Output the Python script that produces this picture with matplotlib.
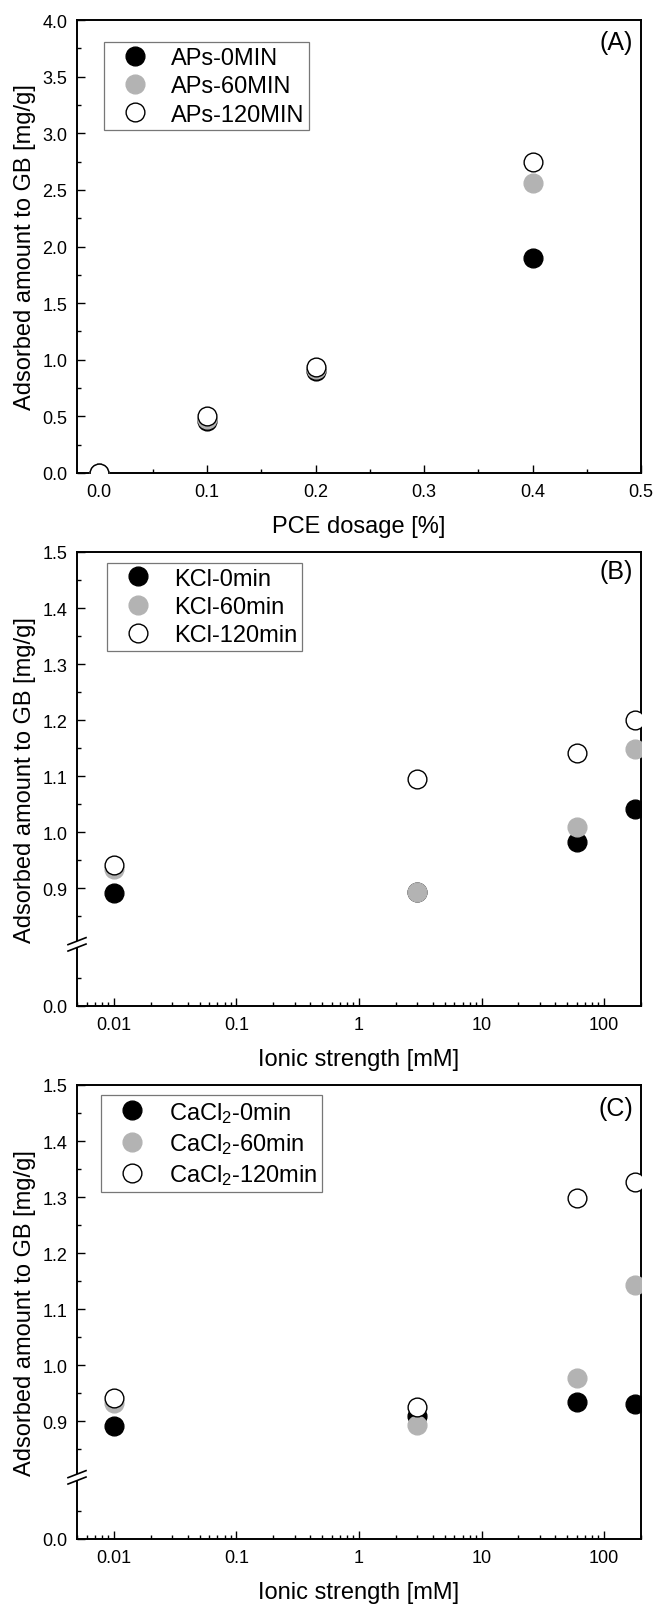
import numpy as np
import matplotlib
matplotlib.use("Agg")
import matplotlib.pyplot as plt
from matplotlib.ticker import MultipleLocator, FixedLocator, FuncFormatter, LogLocator, NullFormatter

plt.rcParams['font.family'] = ['Liberation Sans', 'DejaVu Sans']
plt.rcParams['mathtext.fontset'] = 'custom'
plt.rcParams['mathtext.rm'] = 'Liberation Sans'
plt.rcParams['mathtext.it'] = 'Liberation Sans'

# panel A data
pce_dosage = [0.0, 0.1, 0.2, 0.4]
aps_0 = [0.0, 0.46, 0.90, 1.90]
aps_60 = [0.0, 0.48, 0.92, 2.56]
aps_120 = [0.0, 0.50, 0.94, 2.75]
aps_labels = ['APs-0MIN', 'APs-60MIN', 'APs-120MIN']

# panels B and C data
ionic = [0.01, 3, 60, 180]
kcl_0 = [0.891, 0.893, 0.983, 1.042]
kcl_60 = [0.935, 0.893, 1.010, 1.149]
kcl_120 = [0.942, 1.095, 1.141, 1.200]
kcl_labels = ['KCl-0min', 'KCl-60min', 'KCl-120min']

cacl_0 = [0.892, 0.909, 0.935, 0.930]
cacl_60 = [0.932, 0.893, 0.978, 1.143]
cacl_120 = [0.942, 0.925, 1.298, 1.327]
cacl_labels = ['CaCl$_2$-0min', 'CaCl$_2$-60min', 'CaCl$_2$-120min']

GRAY = '#b3b3b3'
styles = [dict(mfc='black', mec='black'),
          dict(mfc=GRAY, mec=GRAY),
          dict(mfc='white', mec='black', mew=1.0)]

TICK_FS = 13
LABEL_FS = 17
LEG_FS = 17
TAG_FS = 18

# y axis break (0..LOW shown, then HIGH..1.5)
LOW = 0.105
HIGH = 0.795


def fwd(y):
    y = np.asarray(y, dtype=float)
    return np.where(y <= LOW, y, np.where(y >= HIGH, y - HIGH + LOW, LOW))


def inv(u):
    u = np.asarray(u, dtype=float)
    return np.where(u <= LOW, u, u - LOW + HIGH)


fig = plt.figure(figsize=(6.56, 16.06), dpi=100)
left, width = 77 / 656, 564 / 656
axA = fig.add_axes([left, 1 - 474 / 1606, width, 453 / 1606])
axB = fig.add_axes([left, 1 - 1007 / 1606, width, 454 / 1606])
axC = fig.add_axes([left, 1 - 1540 / 1606, width, 454 / 1606])


def base_style(ax):
    for s in ax.spines.values():
        s.set_linewidth(1.4)
    ax.tick_params(which='both', direction='in', top=False, right=False,
                   labelsize=TICK_FS, pad=7, width=1.0)
    ax.tick_params(which='major', length=6)
    ax.tick_params(which='minor', length=3)


def draw_series(ax, x, ys, labels):
    for y, lab, st in zip(ys, labels, styles):
        ax.plot(x, y, linestyle='none', marker='o', markersize=13.5,
                label=lab, clip_on=True, zorder=3, **st)


def add_legend(ax, xa, ya):
    leg = ax.legend(loc='upper left', bbox_to_anchor=(xa, ya), borderaxespad=0,
                    fontsize=LEG_FS, frameon=True, fancybox=False, framealpha=1,
                    edgecolor='#777777', handlelength=2.2, handletextpad=0.45,
                    borderpad=0.2, labelspacing=0.27, numpoints=1)
    leg.get_frame().set_linewidth(0.9)


def set_labels(ax, xlabel, h):
    ax.set_xlabel(xlabel, fontsize=LABEL_FS)
    ax.set_ylabel('Adsorbed amount to GB [mg/g]', fontsize=LABEL_FS)
    ax.xaxis.set_label_coords(0.5, -53 / h)
    ax.xaxis.label.set_va('center')
    ax.yaxis.set_label_coords(-52 / 564, 0.5)
    ax.yaxis.label.set_va('center')


# ---- panel A
base_style(axA)
draw_series(axA, pce_dosage, [aps_0, aps_60, aps_120], aps_labels)
axA.set_xlim(-0.02, 0.5)
axA.set_ylim(0, 4.0)
axA.xaxis.set_major_locator(MultipleLocator(0.1))
axA.xaxis.set_minor_locator(MultipleLocator(0.05))
axA.yaxis.set_major_locator(MultipleLocator(0.5))
axA.yaxis.set_minor_locator(MultipleLocator(0.25))
axA.xaxis.set_major_formatter(FuncFormatter(lambda v, p: '%.1f' % v))
axA.yaxis.set_major_formatter(FuncFormatter(lambda v, p: '%.1f' % v))
set_labels(axA, 'PCE dosage [%]', 453)
add_legend(axA, 0.048, 0.951)
axA.text(0.986, 0.951, '(A)', transform=axA.transAxes, ha='right', va='center',
         fontsize=TAG_FS)


# ---- panels B and C
def broken_panel(ax, ys, labels, tag, tag_y, leg_x, leg_y):
    base_style(ax)
    ax.set_yscale('function', functions=(fwd, inv))
    draw_series(ax, ionic, ys, labels)
    ax.set_xscale('log')
    ax.set_xlim(0.005, 200)
    ax.set_ylim(0, 1.5)
    ax.xaxis.set_major_locator(LogLocator(base=10, numticks=20))
    ax.xaxis.set_minor_locator(LogLocator(base=10, subs=np.arange(2, 10), numticks=20))
    ax.xaxis.set_minor_formatter(NullFormatter())
    ax.xaxis.set_major_formatter(FuncFormatter(lambda v, p: '%g' % v))
    ax.yaxis.set_major_locator(FixedLocator([0.0, 0.9, 1.0, 1.1, 1.2, 1.3, 1.4, 1.5]))
    ax.yaxis.set_minor_locator(FixedLocator([0.05, 0.85, 0.95, 1.05, 1.15, 1.25, 1.35, 1.45]))
    ax.yaxis.set_major_formatter(FuncFormatter(lambda v, p: '%.1f' % v))
    ax.yaxis.set_minor_formatter(NullFormatter())
    set_labels(ax, 'Ionic strength [mM]', 454)
    add_legend(ax, leg_x, leg_y)
    ax.text(0.986, tag_y, tag, transform=ax.transAxes, ha='right', va='center',
            fontsize=TAG_FS)
    # break marks on the left spine
    yb = float(fwd(0.8)) / float(fwd(1.5))
    gap, dx, dy = 3.2 / 454, 9 / 564, 3.5 / 454
    ax.plot([0, 0], [yb - gap, yb + gap], color='white', lw=4,
            transform=ax.transAxes, clip_on=False, zorder=6,
            solid_capstyle='butt')
    for off in (-gap, gap):
        ax.plot([-dx, dx], [yb + off - dy, yb + off + dy], color='black', lw=1.2,
                transform=ax.transAxes, clip_on=False, zorder=7)


broken_panel(axB, [kcl_0, kcl_60, kcl_120], kcl_labels, '(B)', 0.958, 0.053, 0.976)
broken_panel(axC, [cacl_0, cacl_60, cacl_120], cacl_labels, '(C)', 0.95, 0.043, 0.978)

fig.savefig('out.png', dpi=100)
